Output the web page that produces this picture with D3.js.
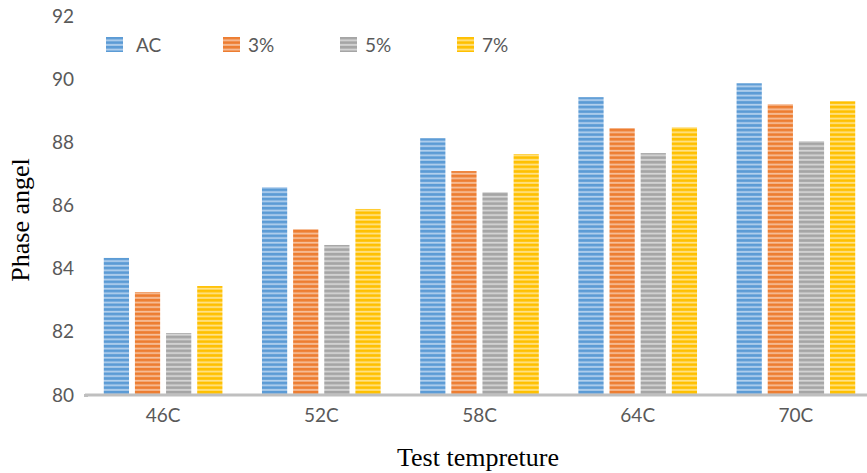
<!DOCTYPE html>
<html><head><meta charset="utf-8">
<script src="https://cdn.jsdelivr.net/npm/d3@7"></script>
<style>body{margin:0;background:#fff}svg{display:block}</style>
</head><body><svg id="c" width="867" height="473"></svg>
<script>
const categories = ["46C","52C","58C","64C","70C"];
const seriesNames = ["AC","3%","5%","7%"];
const acValues  = [84.34, 86.58, 88.13, 89.43, 89.87];
const p3Values  = [83.26, 85.25, 87.09, 88.45, 89.21];
const p5Values  = [81.96, 84.75, 86.42, 87.66, 88.04];
const p7Values  = [83.45, 85.89, 87.63, 88.48, 89.30];
const yTicks = [80,82,84,86,88,90,92];

const series = [acValues, p3Values, p5Values, p7Values];
const colors = [["#5b9bd5","#b4d1ee"],["#ed7d31","#f7c09b"],["#a5a5a5","#d6d6d6"],["#ffc000","#ffe38a"]];

const svg = d3.select("#c");
const defs = svg.append("defs");
colors.forEach((c,i)=>{
  const p = defs.append("pattern").attr("id","pat"+i).attr("patternUnits","userSpaceOnUse")
    .attr("width",8).attr("height",4.6);
  p.append("rect").attr("width",8).attr("height",4.6).attr("fill",c[0]);
  p.append("rect").attr("y",2.6).attr("width",8).attr("height",1.8).attr("fill",c[1]);
});

const x0 = d3.scaleBand().domain(categories).range([84,875]).paddingInner(0.25).paddingOuter(0.125);
const x1 = d3.scaleBand().domain(seriesNames).range([0,x0.bandwidth()]).paddingInner(0.19);
const y = d3.scaleLinear().domain([80,92]).range([395,16]);

const font = "Lato, 'Open Sans', sans-serif";

// bars
const g = svg.append("g");
categories.forEach((cat,ci)=>{
  seriesNames.forEach((s,si)=>{
    const v = series[si][ci];
    g.append("rect").attr("x",x0(cat)+x1(s)).attr("width",x1.bandwidth())
      .attr("y",y(v)).attr("height",y(80)-y(v))
      .attr("fill","url(#pat"+si+")");
  });
});

// x axis
const xa = svg.append("g").attr("transform","translate(0,395)").call(d3.axisBottom(x0).tickSize(0).tickPadding(14));
xa.select(".domain").attr("stroke","#bfbfbf").attr("stroke-width",3).attr("d","M85,0H867");
xa.selectAll("text").attr("fill","#595959").attr("font-size",19).attr("font-family",font);

// y axis labels
const ya = svg.append("g").attr("transform","translate(74,0)").call(d3.axisLeft(y).tickValues(yTicks).tickSize(0).tickPadding(0).tickFormat(d3.format("d")));
ya.select(".domain").remove();
ya.selectAll("text").attr("fill","#595959").attr("font-size",19).attr("font-family",font);
svg.append("rect").attr("x",84).attr("y",394).attr("width",4).attr("height",3).attr("fill","#bfbfbf");

// titles
svg.append("text").attr("transform","translate(29,220) rotate(-90)").attr("text-anchor","middle")
  .attr("font-family","'Liberation Serif', 'Times New Roman', serif").attr("font-size",26).attr("fill","#000").text("Phase angel");
svg.append("text").attr("x",478).attr("y",466).attr("text-anchor","middle")
  .attr("font-family","'Liberation Serif', 'Times New Roman', serif").attr("font-size",26).attr("fill","#000").text("Test tempreture");

// legend
const lx = d3.scalePoint().domain(seriesNames).range([106,457]);
seriesNames.forEach((s,i)=>{
  svg.append("rect").attr("x",lx(s)).attr("y",37).attr("width",17).attr("height",15).attr("fill","url(#pat"+i+")");
  svg.append("text").attr("x",lx(s)+(i===0?30:25)).attr("y",52).attr("font-family",font).attr("font-size",19)
    .attr("fill","#595959").text(s);
});
</script></body></html>
